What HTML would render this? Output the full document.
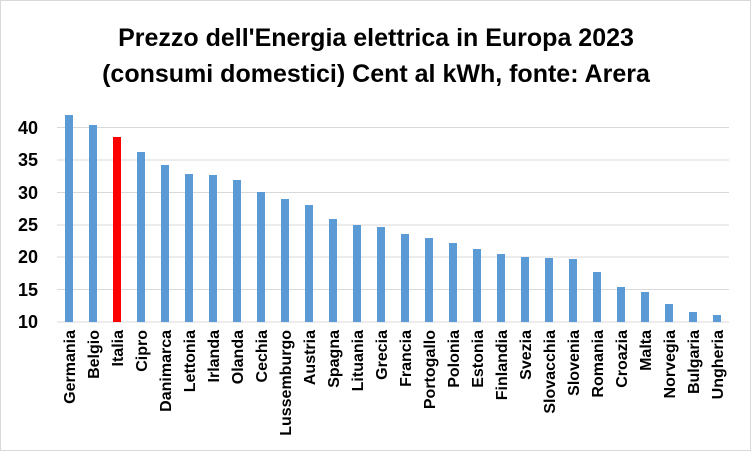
<!DOCTYPE html>
<html><head><meta charset="utf-8"><style>
body{margin:0;background:#fff}
svg{display:block;font-family:"Liberation Sans",sans-serif}
</style></head><body>
<svg width="752" height="452" xmlns="http://www.w3.org/2000/svg">
<rect x="0.5" y="0.5" width="750" height="450" fill="#fff" stroke="#d9d9d9"/>
<text x="376" y="46" text-anchor="middle" font-size="25" font-weight="bold" fill="#000">Prezzo dell'Energia elettrica in Europa 2023</text>
<text x="376" y="82" text-anchor="middle" font-size="25" font-weight="bold" fill="#000">(consumi domestici) Cent al kWh, fonte: Arera</text>
<g stroke="#d9d9d9" stroke-width="1">
<line x1="57" x2="729" y1="127.5" y2="127.5"/>
<line x1="57" x2="729" y1="160" y2="160"/>
<line x1="57" x2="729" y1="192.5" y2="192.5"/>
<line x1="57" x2="729" y1="225" y2="225"/>
<line x1="57" x2="729" y1="257" y2="257"/>
<line x1="57" x2="729" y1="289.5" y2="289.5"/>
<line x1="57" x2="729" y1="322" y2="322"/>
</g>
<g font-size="18" font-weight="bold" text-anchor="end" fill="#000">
<text x="38" y="134">40</text><text x="38" y="166">35</text><text x="38" y="199">30</text>
<text x="38" y="231">25</text><text x="38" y="263">20</text><text x="38" y="296">15</text><text x="38" y="328">10</text>
</g>
<g fill="#5b9bd5">
<rect x="65" y="115" width="8" height="207"/>
<rect x="89" y="125" width="8" height="197"/>
<rect x="113" y="137" width="8" height="185" fill="#ff0000"/>
<rect x="137" y="152" width="8" height="170"/>
<rect x="161" y="165" width="8" height="157"/>
<rect x="185" y="174" width="8" height="148"/>
<rect x="209" y="175" width="8" height="147"/>
<rect x="233" y="180" width="8" height="142"/>
<rect x="257" y="192" width="8" height="130"/>
<rect x="281" y="199" width="8" height="123"/>
<rect x="305" y="205" width="8" height="117"/>
<rect x="329" y="219" width="8" height="103"/>
<rect x="353" y="225" width="8" height="97"/>
<rect x="377" y="227" width="8" height="95"/>
<rect x="401" y="234" width="8" height="88"/>
<rect x="425" y="238" width="8" height="84"/>
<rect x="449" y="243" width="8" height="79"/>
<rect x="473" y="249" width="8" height="73"/>
<rect x="497" y="254" width="8" height="68"/>
<rect x="521" y="257" width="8" height="65"/>
<rect x="545" y="258" width="8" height="64"/>
<rect x="569" y="259" width="8" height="63"/>
<rect x="593" y="272" width="8" height="50"/>
<rect x="617" y="287" width="8" height="35"/>
<rect x="641" y="292" width="8" height="30"/>
<rect x="665" y="304" width="8" height="18"/>
<rect x="689" y="312" width="8" height="10"/>
<rect x="713" y="315" width="8" height="7"/>
</g>
<g font-size="16" font-weight="bold" fill="#000" text-anchor="end">
<text transform="translate(75,330) rotate(-90)">Germania</text>
<text transform="translate(99,330) rotate(-90)">Belgio</text>
<text transform="translate(123,330) rotate(-90)">Italia</text>
<text transform="translate(147,330) rotate(-90)">Cipro</text>
<text transform="translate(171,330) rotate(-90)">Danimarca</text>
<text transform="translate(195,330) rotate(-90)">Lettonia</text>
<text transform="translate(219,330) rotate(-90)">Irlanda</text>
<text transform="translate(243,330) rotate(-90)">Olanda</text>
<text transform="translate(267,330) rotate(-90)">Cechia</text>
<text transform="translate(291,330) rotate(-90)">Lussemburgo</text>
<text transform="translate(315,330) rotate(-90)">Austria</text>
<text transform="translate(339,330) rotate(-90)">Spagna</text>
<text transform="translate(363,330) rotate(-90)">Lituania</text>
<text transform="translate(387,330) rotate(-90)">Grecia</text>
<text transform="translate(411,330) rotate(-90)">Francia</text>
<text transform="translate(435,330) rotate(-90)">Portogallo</text>
<text transform="translate(459,330) rotate(-90)">Polonia</text>
<text transform="translate(483,330) rotate(-90)">Estonia</text>
<text transform="translate(507,330) rotate(-90)">Finlandia</text>
<text transform="translate(531,330) rotate(-90)">Svezia</text>
<text transform="translate(555,330) rotate(-90)">Slovacchia</text>
<text transform="translate(579,330) rotate(-90)">Slovenia</text>
<text transform="translate(603,330) rotate(-90)">Romania</text>
<text transform="translate(627,330) rotate(-90)">Croazia</text>
<text transform="translate(651,330) rotate(-90)">Malta</text>
<text transform="translate(675,330) rotate(-90)">Norvegia</text>
<text transform="translate(699,330) rotate(-90)">Bulgaria</text>
<text transform="translate(723,330) rotate(-90)">Ungheria</text>
</g>
</svg>
</body></html>
